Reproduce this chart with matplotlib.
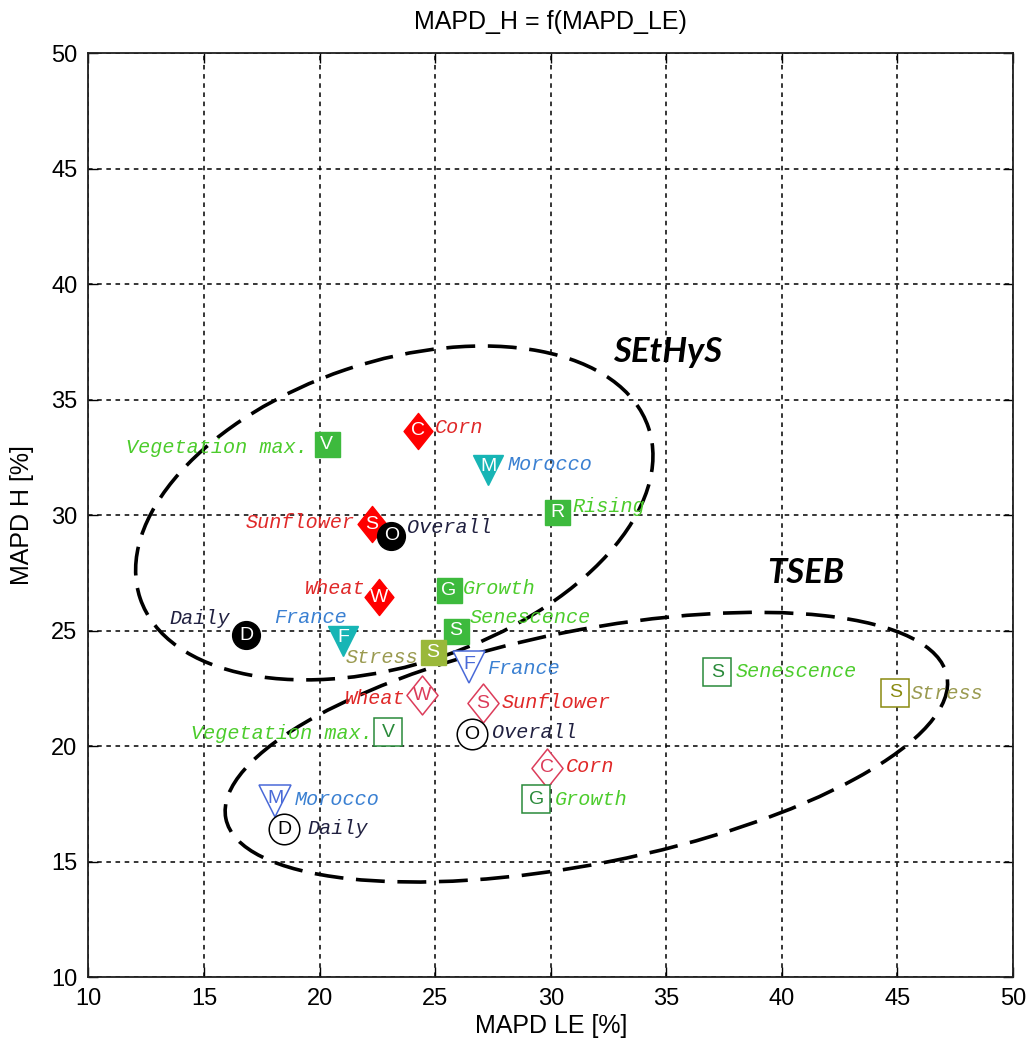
import matplotlib
matplotlib.use('Agg')
import matplotlib.pyplot as plt
from matplotlib.patches import Ellipse
from matplotlib.path import Path

# SEtHyS - filled markers
sethys_names = ['Corn', 'Vegetation max.', 'Morocco', 'Rising', 'Sunflower', 'Overall',
                'Wheat', 'Growth', 'Daily', 'France', 'Senescence', 'Stress']
sethys_x = [24.27, 20.3, 27.3, 30.28, 22.27, 23.1, 22.58, 25.6, 16.82, 21.02, 25.9, 24.9]
sethys_y = [33.64, 33.07, 31.95, 30.13, 29.6, 29.1, 26.45, 26.75, 24.8, 24.55, 24.98, 24.07]

# TSEB - open markers
tseb_names = ['France', 'Wheat', 'Sunflower', 'Vegetation max.', 'Overall', 'Corn',
              'Growth', 'Morocco', 'Daily', 'Senescence', 'Stress']
tseb_x = [26.47, 24.44, 27.07, 22.96, 26.6, 29.85, 29.37, 18.07, 18.47, 37.2, 44.9]
tseb_y = [23.4, 22.2, 21.86, 20.6, 20.5, 19.05, 17.7, 17.6, 16.4, 23.2, 22.3]

crops = ['Corn', 'Sunflower', 'Wheat']
countries = ['Morocco', 'France']
overall = ['Overall', 'Daily']

# label placement: (dx px, dy px, ha)
sethys_lab = [(17, 3, 'left'), (-19, -3, 'right'), (19, 5, 'left'), (15, 6, 'left'),
              (-17, 2, 'right'), (16, 8, 'left'), (-14, 9, 'right'), (14, 2, 'left'),
              (-16, 17, 'right'), (4, 23, 'right'), (14, 13, 'left'), (-15, -5, 'right')]
tseb_lab = [(18, -1, 'left'), (-17, -3, 'right'), (19, 1, 'left'), (-15, -1, 'right'),
            (20, 2, 'left'), (19, 1, 'left'), (19, 0, 'left'), (20, 2, 'left'),
            (23, 1, 'left'), (18, 1, 'left'), (15, -1, 'left')]

diamond = Path([(0, 1), (0.8, 0), (0, -1), (-0.8, 0), (0, 1)],
               [Path.MOVETO, Path.LINETO, Path.LINETO, Path.LINETO, Path.CLOSEPOLY])

DPI = 100


def style(name, filled):
    if name in crops:
        mk, ms = diamond, 26
        col = '#ff0000' if filled else '#dc3c5a'
        tcol = '#e02828'
    elif name in countries:
        mk, ms = 'v', 21
        col = '#17b5b5' if filled else '#4a6ad8'
        tcol = '#3a80d2'
    elif name in overall:
        mk, ms = 'o', 20
        col = '#000000'
        tcol = '#202040'
    elif name == 'Stress':
        mk, ms = 's', 18
        col = '#9ab83a' if filled else '#8a8a10'
        tcol = '#9a9a50'
    else:
        mk, ms = 's', 18
        col = '#3dba3d' if filled else '#2a8a3a'
        tcol = '#4ccc2c'
    return mk, ms, col, tcol


def draw_group(ax, names, xs, ys, labs, filled):
    for name, x, y, (dx, dy, ha) in zip(names, xs, ys, labs):
        mk, ms, col, tcol = style(name, filled)
        if filled:
            ax.plot(x, y, marker=mk, ms=ms, mfc=col, mec=col, mew=1, ls='none', zorder=4)
            lcol = 'white'
        else:
            ax.plot(x, y, marker=mk, ms=ms + 2, mfc='white', mec=col, mew=1.1, ls='none', zorder=4)
            lcol = col
        up = 3 if mk == 'v' else 0
        ax.annotate(name[0], (x, y), xytext=(0, up * 72 / DPI), textcoords='offset points',
                    ha='center', va='center', fontsize=14, color=lcol,
                    family='Liberation Sans', zorder=5)
        ax.annotate(name, (x, y), xytext=(dx * 72 / DPI, dy * 72 / DPI),
                    textcoords='offset points', ha=ha, va='center', fontsize=14.5,
                    color=tcol, family='Liberation Mono', style='italic', zorder=5)


fig = plt.figure(figsize=(10.29, 10.5), dpi=DPI)
ax = fig.add_axes([0.086, 0.0695, 0.8985, 0.88])

ax.set_xlim(10, 50)
ax.set_ylim(10, 50)
ax.set_xticks(range(10, 51, 5))
ax.set_yticks(range(10, 51, 5))
ax.grid(True, color='black', ls=(0, (3, 3)), lw=1.1)
ax.tick_params(direction='in', length=7, width=1, top=True, right=True,
               labelsize=17, pad=8)
for lab in ax.get_xticklabels() + ax.get_yticklabels():
    lab.set_family('Liberation Sans')
for sp in ax.spines.values():
    sp.set_linewidth(1.3)
    sp.set_color('#202020')

ax.set_xlabel('MAPD LE [%]', fontsize=18, family='Liberation Sans', labelpad=3)
ax.set_ylabel('MAPD H [%]', fontsize=18, family='Liberation Sans', labelpad=12)
ax.set_title('MAPD_H = f(MAPD_LE)', fontsize=18, family='Liberation Sans', pad=17)

# group ellipses
ax.add_patch(Ellipse((23.23, 30.09), 23.2, 13.1, angle=18.6, fill=False,
                     ec='black', lw=2.6, ls=(0, (8, 3.5)), zorder=3))
ax.add_patch(Ellipse((31.54, 19.95), 31.8, 10.1, angle=11.2, fill=False,
                     ec='black', lw=2.6, ls=(0, (8, 3.5)), zorder=3))

draw_group(ax, sethys_names, sethys_x, sethys_y, sethys_lab, True)
draw_group(ax, tseb_names, tseb_x, tseb_y, tseb_lab, False)

ax.text(35.05, 37.05, 'SEtHyS', fontsize=25, fontweight='bold', style='italic',
        family='Lato', ha='center', va='center')
ax.text(41.05, 27.5, 'TSEB', fontsize=25, fontweight='bold', style='italic',
        family='Lato', ha='center', va='center')

fig.savefig('out.png', dpi=DPI)
